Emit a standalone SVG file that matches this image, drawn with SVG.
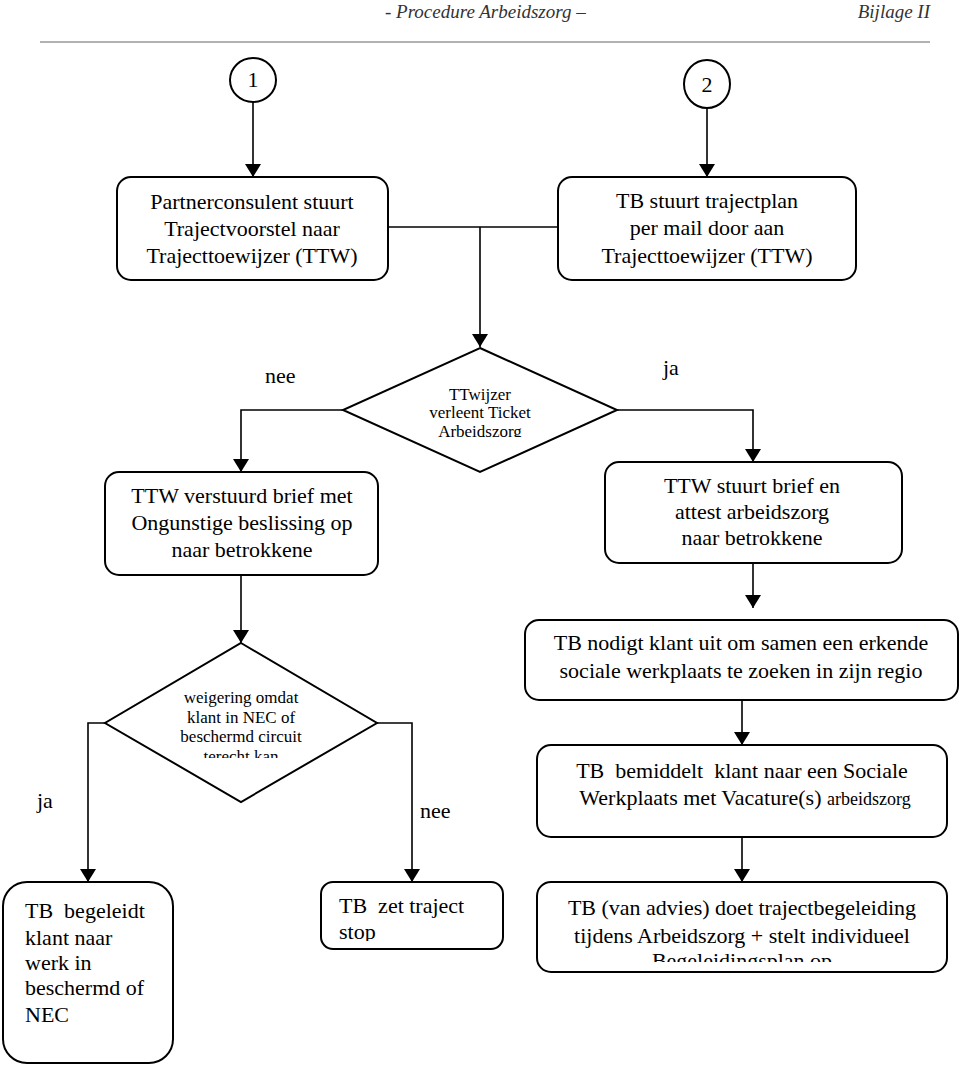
<svg xmlns="http://www.w3.org/2000/svg" width="960" height="1065" viewBox="0 0 960 1065">
<style>
.box{fill:#fff;stroke:#000;stroke-width:2}
.t{font-family:"Liberation Serif","Times New Roman",serif;font-size:22px;fill:#000;text-anchor:middle}
.tl{font-family:"Liberation Serif","Times New Roman",serif;font-size:22px;fill:#000}
.td{font-family:"Liberation Serif","Times New Roman",serif;font-size:17px;fill:#000;text-anchor:middle}
.hdr{font-family:"Liberation Serif","Times New Roman",serif;font-size:19px;font-style:italic;fill:#333}
.c{fill:none;stroke:#000;stroke-width:1.6}
</style>
<defs>
<marker id="ah" viewBox="0 0 13 16" refX="13" refY="8" markerWidth="13" markerHeight="16" markerUnits="userSpaceOnUse" orient="auto">
<path d="M0,0 L13,8 L0,16 z" fill="#000"/>
</marker>
<clipPath id="cd1"><rect x="340" y="340" width="280" height="97"/></clipPath>
<clipPath id="cd2"><rect x="100" y="640" width="280" height="118"/></clipPath>
<clipPath id="cb9"><rect x="321" y="882" width="182" height="59"/></clipPath>
<clipPath id="cb7"><rect x="537" y="882" width="410" height="80"/></clipPath>
</defs>

<g id="header">
<text class="hdr" x="385" y="18">- Procedure Arbeidszorg –</text>
<text class="hdr" x="930" y="18" text-anchor="end">Bijlage II</text>
<line x1="40" y1="42" x2="930" y2="42" stroke="#999" stroke-width="1.5"/>
</g>

<g id="connectors">
<line class="c" x1="253" y1="101" x2="253" y2="177" marker-end="url(#ah)"/>
<line class="c" x1="707" y1="108" x2="707" y2="177" marker-end="url(#ah)"/>
<line class="c" x1="388" y1="227" x2="558" y2="227"/>
<line class="c" x1="480" y1="227" x2="480" y2="347" marker-end="url(#ah)"/>
<polyline class="c" points="343,410 241,410 241,472" marker-end="url(#ah)"/>
<polyline class="c" points="617,410 753,410 753,462" marker-end="url(#ah)"/>
<line class="c" x1="753" y1="563" x2="753" y2="608" marker-end="url(#ah)"/>
<line class="c" x1="742" y1="700" x2="742" y2="745" marker-end="url(#ah)"/>
<line class="c" x1="742" y1="837" x2="742" y2="882" marker-end="url(#ah)"/>
<line class="c" x1="241" y1="575" x2="241" y2="643" marker-end="url(#ah)"/>
<polyline class="c" points="105,723 88,723 88,882" marker-end="url(#ah)"/>
<polyline class="c" points="377,723 412,723 412,882" marker-end="url(#ah)"/>
<text class="tl" x="265" y="383">nee</text>
<text class="tl" x="663" y="375">ja</text>
<text class="tl" x="37" y="808">ja</text>
<text class="tl" x="420" y="818">nee</text>
</g>

<g id="start1">
<ellipse class="box" cx="253" cy="80" rx="23" ry="22" stroke-width="1.6"/>
<text class="t" x="253" y="87" font-size="20">1</text>
</g>
<g id="start2">
<ellipse class="box" cx="707" cy="84" rx="23" ry="24" stroke-width="1.6"/>
<text class="t" x="707" y="92" font-size="21">2</text>
</g>

<g id="partnerconsulent">
<rect class="box" x="117" y="177" width="271" height="103" rx="14"/>
<text class="t" x="252" y="209">Partnerconsulent stuurt</text>
<text class="t" x="252" y="236">Trajectvoorstel naar</text>
<text class="t" x="252" y="263">Trajecttoewijzer (TTW)</text>
</g>

<g id="tb-trajectplan">
<rect class="box" x="558" y="177" width="298" height="103" rx="14"/>
<text class="t" x="707" y="208">TB stuurt trajectplan</text>
<text class="t" x="707" y="235">per mail door aan</text>
<text class="t" x="707" y="263">Trajecttoewijzer (TTW)</text>
</g>

<g id="beslissing-ticket">
<polygon class="box" points="480,348 617,410 480,472 343,410" stroke-width="1.6"/>
<g clip-path="url(#cd1)">
<text class="td" x="480" y="400">TTwijzer</text>
<text class="td" x="480" y="418">verleent Ticket</text>
<text class="td" x="480" y="437">Arbeidszorg</text>
</g>
</g>

<g id="ongunstige-beslissing">
<rect class="box" x="105" y="472" width="273" height="103" rx="14"/>
<text class="t" x="242" y="503">TTW verstuurd brief met</text>
<text class="t" x="242" y="530">Ongunstige beslissing op</text>
<text class="t" x="242" y="557">naar betrokkene</text>
</g>

<g id="attest-arbeidszorg">
<rect class="box" x="605" y="462" width="297" height="101" rx="14"/>
<text class="t" x="752" y="493">TTW stuurt brief en</text>
<text class="t" x="752" y="519">attest arbeidszorg</text>
<text class="t" x="752" y="545">naar betrokkene</text>
</g>

<g id="tb-nodigt-uit">
<rect class="box" x="525" y="620" width="433" height="80" rx="14"/>
<text class="t" x="741" y="650">TB nodigt klant uit om samen een erkende</text>
<text class="t" x="741" y="678">sociale werkplaats te zoeken in zijn regio</text>
</g>

<g id="beslissing-weigering">
<polygon class="box" points="241,643 377,723 241,802 105,723" stroke-width="1.6"/>
<g clip-path="url(#cd2)">
<text class="td" x="241" y="703">weigering omdat</text>
<text class="td" x="241" y="723">klant in NEC of</text>
<text class="td" x="241" y="742">beschermd circuit</text>
<text class="td" x="241" y="762">terecht kan</text>
</g>
</g>

<g id="tb-bemiddelt">
<rect class="box" x="537" y="745" width="410" height="92" rx="14"/>
<text class="t" x="742" y="778" xml:space="preserve">TB  bemiddelt  klant naar een Sociale</text>
<text class="t" x="745" y="805">Werkplaats met Vacature(s) <tspan font-size="18">arbeidszorg</tspan></text>
</g>

<g id="tb-begeleidt">
<rect class="box" x="3" y="882" width="170" height="181" rx="24"/>
<text class="tl" x="25" y="918" xml:space="preserve">TB  begeleidt</text>
<text class="tl" x="25" y="945">klant naar</text>
<text class="tl" x="25" y="970">werk in</text>
<text class="tl" x="25" y="995">beschermd of</text>
<text class="tl" x="25" y="1022">NEC</text>
</g>

<g id="tb-zet-stop">
<rect class="box" x="321" y="882" width="182" height="67" rx="12"/>
<g clip-path="url(#cb9)">
<text class="tl" x="339" y="913" xml:space="preserve">TB  zet traject</text>
<text class="tl" x="339" y="939">stop</text>
</g>
</g>

<g id="trajectbegeleiding">
<rect class="box" x="537" y="882" width="410" height="90" rx="14"/>
<g clip-path="url(#cb7)">
<text class="t" x="742" y="915">TB (van advies) doet trajectbegeleiding</text>
<text class="t" x="742" y="943">tijdens Arbeidszorg + stelt individueel</text>
<text class="t" x="742" y="968">Begeleidingsplan op</text>
</g>
</g>
</svg>
